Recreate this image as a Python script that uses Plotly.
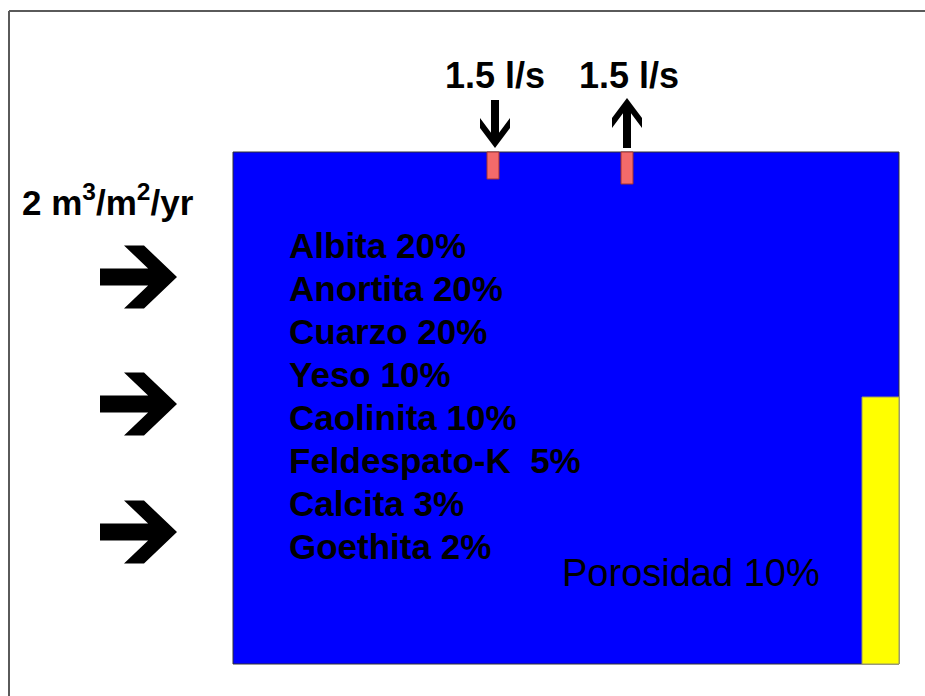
import plotly.graph_objects as go

# --- datos del esquema ---
minerales = ["Albita", "Anortita", "Cuarzo", "Yeso", "Caolinita", "Feldespato-K", "Calcita", "Goethita"]
porcentajes = [20, 20, 20, 10, 10, 5, 3, 2]
porosidad = 10
recarga = 2                      # m3/m2/yr
caudales = [1.5, 1.5]            # l/s
sentidos = ["entrada", "salida"]

W, H = 925, 696
FONT = "Liberation Sans, Arial, sans-serif"


def flecha(tail, tip, s, h, a, d):
    """Flecha de bloque tipo chevron, devuelve path SVG en coords de datos."""
    (x0, y0), (x1, y1) = tail, tip
    L = ((x1 - x0) ** 2 + (y1 - y0) ** 2) ** 0.5
    ux, uy = (x1 - x0) / L, (y1 - y0) / L
    vx, vy = -uy, ux
    loc = [(-L, -s), (-d - s * a / h, -s), (-a - d, -h), (-a, -h), (0, 0),
           (-a, h), (-a - d, h), (-d - s * a / h, s), (-L, s)]
    pts = [(x1 + u * ux + v * vx, y1 + u * uy + v * vy) for u, v in loc]
    return "M " + " L ".join(f"{px:.1f},{py:.1f}" for px, py in pts) + " Z"


fig = go.Figure()

shapes = []
# marco exterior (solo borde superior e izquierdo visibles)
marco = dict(color="#5a5a5a", width=2)
shapes.append(dict(type="line", x0=9, y0=11, x1=W + 40, y1=11, line=marco))
shapes.append(dict(type="line", x0=9, y0=11, x1=9, y1=H + 40, line=marco))
# acuifero
shapes.append(dict(type="rect", x0=233, y0=152, x1=899, y1=664,
                   line=dict(color="#333333", width=1), fillcolor="#0000FF"))
# zona amarilla
shapes.append(dict(type="rect", x0=862, y0=397, x1=899, y1=664,
                   line=dict(color="#9a9a60", width=1), fillcolor="#FFFF00"))

# pozos
pozos_x = [493, 627]
pozos_fondo = [179, 184]
for px, fondo in zip(pozos_x, pozos_fondo):
    shapes.append(dict(type="rect", x0=px - 6, y0=152, x1=px + 6, y1=fondo,
                       line=dict(color="#a03030", width=1), fillcolor="#F46A6A"))

# flechas de recarga (izquierda)
for yc in [277, 404, 532]:
    shapes.append(dict(type="path", path=flecha((100, yc), (177, yc), 8.5, 31.5, 33, 20),
                       fillcolor="black", line=dict(width=0)))

# flechas de caudal (arriba)
for px, sentido in zip(pozos_x, sentidos):
    if sentido == "entrada":
        p = flecha((px + 2, 100), (px + 2, 148), 4, 15, 20, 10)
    else:
        p = flecha((px, 148), (px, 98), 4, 15, 20, 10)
    shapes.append(dict(type="path", path=p, fillcolor="black", line=dict(width=0)))

annotations = []
for px, q in zip(pozos_x, caudales):
    annotations.append(dict(x=px + 2, y=75, text=f"<b>{q} l/s</b>", showarrow=False,
                            font=dict(family=FONT, size=36, color="black"),
                            xanchor="center", yanchor="middle"))

annotations.append(dict(x=108, y=200, text=f"<b>{recarga} m<sup>3</sup>/m<sup>2</sup>/yr</b>",
                        showarrow=False, font=dict(family=FONT, size=35, color="black"),
                        xanchor="center", yanchor="middle"))

for i, (m, p) in enumerate(zip(minerales, porcentajes)):
    sep = "&nbsp;&nbsp;" if p < 10 and m.endswith("K") else " "
    annotations.append(dict(x=287, y=245 + i * 43, text=f"<b>{m}{sep}{p}%</b>", showarrow=False,
                            font=dict(family=FONT, size=35, color="black"),
                            xanchor="left", yanchor="middle"))

annotations.append(dict(x=691, y=573, text=f"Porosidad {porosidad}%", showarrow=False,
                        font=dict(family=FONT, size=38, color="black"),
                        xanchor="center", yanchor="middle"))

fig.update_layout(
    width=W, height=H, autosize=False,
    margin=dict(l=0, r=0, t=0, b=0),
    paper_bgcolor="white", plot_bgcolor="white",
    xaxis=dict(range=[0, W], visible=False, fixedrange=True),
    yaxis=dict(range=[H, 0], visible=False, fixedrange=True),
    shapes=shapes, annotations=annotations, showlegend=False,
)

# quitar el margen del body y las barras de scroll de la pagina
fig.write_html("out.html", config={"displayModeBar": False},
               post_script="document.body.style.margin='0';"
                           "document.documentElement.style.overflow='hidden';"
                           "document.body.style.overflow='hidden';")
